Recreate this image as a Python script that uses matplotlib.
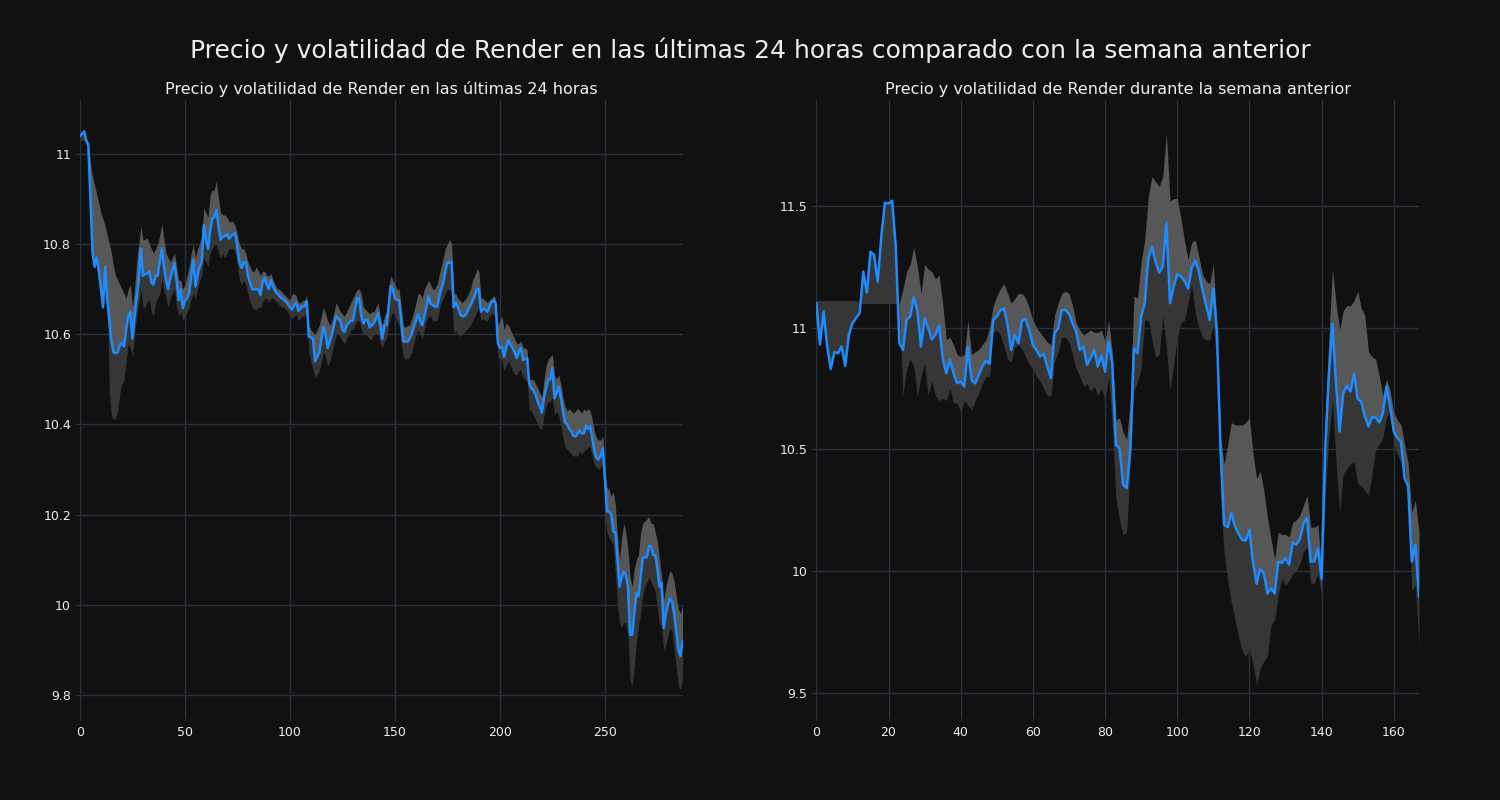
import matplotlib
matplotlib.use("Agg")
import matplotlib.pyplot as plt
from matplotlib.ticker import FuncFormatter

# --- last 24 hours (5 minute steps) ---
day_price = [
    11.04, 11.045, 11.05, 11.03, 11.02, 10.90, 10.78, 10.75, 10.77, 10.74,
    10.70, 10.66, 10.75, 10.68, 10.63, 10.585, 10.56, 10.558, 10.56, 10.576,
    10.58, 10.573, 10.61, 10.64, 10.65, 10.59, 10.64, 10.68, 10.72, 10.79,
    10.73, 10.733, 10.735, 10.74, 10.715, 10.71, 10.73, 10.73, 10.76, 10.79,
    10.75, 10.72, 10.70, 10.725, 10.74, 10.758, 10.72, 10.676, 10.70, 10.658,
    10.675, 10.68, 10.69, 10.73, 10.765, 10.706, 10.73, 10.75, 10.76, 10.842,
    10.81, 10.79, 10.83, 10.857, 10.86, 10.876, 10.84, 10.81, 10.816, 10.818,
    10.822, 10.812, 10.818, 10.822, 10.825, 10.79, 10.76, 10.747, 10.76, 10.76,
    10.73, 10.715, 10.70, 10.70, 10.70, 10.70, 10.687, 10.716, 10.725, 10.71,
    10.70, 10.72, 10.705, 10.696, 10.69, 10.685, 10.68, 10.678, 10.673, 10.667,
    10.66, 10.655, 10.665, 10.67, 10.652, 10.657, 10.662, 10.662, 10.673, 10.595,
    10.593, 10.59, 10.54, 10.55, 10.56, 10.59, 10.617, 10.60, 10.57, 10.584,
    10.60, 10.62, 10.64, 10.635, 10.63, 10.61, 10.605, 10.62, 10.625, 10.63,
    10.63, 10.655, 10.68, 10.68, 10.64, 10.624, 10.632, 10.632, 10.615, 10.62,
    10.625, 10.635, 10.647, 10.62, 10.59, 10.62, 10.62, 10.66, 10.707, 10.70,
    10.68, 10.676, 10.675, 10.63, 10.584, 10.584, 10.584, 10.59, 10.60, 10.617,
    10.63, 10.645, 10.63, 10.62, 10.64, 10.66, 10.685, 10.668, 10.665, 10.662,
    10.66, 10.68, 10.70, 10.713, 10.74, 10.76, 10.758, 10.76, 10.66, 10.67,
    10.66, 10.645, 10.64, 10.64, 10.645, 10.655, 10.664, 10.675, 10.685, 10.70,
    10.70, 10.65, 10.657, 10.655, 10.65, 10.66, 10.672, 10.675, 10.668, 10.58,
    10.57, 10.572, 10.55, 10.57, 10.587, 10.578, 10.57, 10.56, 10.547, 10.56,
    10.57, 10.543, 10.545, 10.547, 10.49, 10.48, 10.475, 10.466, 10.45, 10.44,
    10.426, 10.46, 10.48, 10.50, 10.50, 10.525, 10.458, 10.47, 10.484, 10.46,
    10.43, 10.405, 10.40, 10.39, 10.385, 10.375, 10.373, 10.38, 10.386, 10.38,
    10.38, 10.397, 10.39, 10.396, 10.37, 10.34, 10.325, 10.322, 10.33, 10.347,
    10.28, 10.207, 10.207, 10.20, 10.163, 10.16, 10.10, 10.04, 10.06, 10.073,
    10.065, 10.04, 9.933, 9.933, 9.98, 10.026, 10.018, 10.06, 10.103, 10.105,
    10.105, 10.13, 10.13, 10.11, 10.11, 10.08, 10.04, 10.048, 9.948, 9.98,
    10.00, 10.014, 10.006, 9.98, 9.94, 9.90, 9.886, 9.92,
]
day_upper = [
    11.045, 11.05, 11.055, 11.035, 11.025, 10.98, 10.95, 10.93, 10.91, 10.89,
    10.87, 10.855, 10.84, 10.82, 10.80, 10.78, 10.75, 10.73, 10.72, 10.71,
    10.70, 10.69, 10.68, 10.70, 10.71, 10.66, 10.70, 10.76, 10.80, 10.84,
    10.81, 10.81, 10.815, 10.80, 10.79, 10.78, 10.79, 10.80, 10.82, 10.845,
    10.81, 10.78, 10.77, 10.76, 10.77, 10.78, 10.75, 10.72, 10.72, 10.70,
    10.71, 10.73, 10.75, 10.78, 10.80, 10.77, 10.79, 10.80, 10.82, 10.88,
    10.87, 10.86, 10.91, 10.92, 10.92, 10.94, 10.90, 10.87, 10.865, 10.865,
    10.86, 10.85, 10.85, 10.85, 10.84, 10.82, 10.80, 10.79, 10.79, 10.78,
    10.76, 10.75, 10.74, 10.74, 10.75, 10.74, 10.73, 10.74, 10.74, 10.73,
    10.73, 10.735, 10.72, 10.71, 10.70, 10.70, 10.695, 10.69, 10.685, 10.68,
    10.675, 10.69, 10.69, 10.685, 10.67, 10.67, 10.675, 10.675, 10.685, 10.62,
    10.61, 10.605, 10.60, 10.61, 10.62, 10.64, 10.66, 10.645, 10.63, 10.62,
    10.63, 10.65, 10.67, 10.66, 10.65, 10.645, 10.64, 10.65, 10.66, 10.67,
    10.68, 10.69, 10.70, 10.70, 10.69, 10.66, 10.655, 10.65, 10.645, 10.65,
    10.65, 10.66, 10.67, 10.64, 10.62, 10.64, 10.65, 10.70, 10.73, 10.72,
    10.71, 10.70, 10.70, 10.66, 10.62, 10.615, 10.62, 10.62, 10.635, 10.65,
    10.67, 10.69, 10.69, 10.68, 10.70, 10.71, 10.72, 10.71, 10.70, 10.70,
    10.71, 10.73, 10.75, 10.77, 10.79, 10.80, 10.81, 10.80, 10.69, 10.69,
    10.68, 10.675, 10.67, 10.675, 10.68, 10.69, 10.70, 10.72, 10.73, 10.745,
    10.74, 10.68, 10.68, 10.675, 10.67, 10.675, 10.68, 10.685, 10.68, 10.62,
    10.63, 10.64, 10.61, 10.625, 10.62, 10.61, 10.60, 10.59, 10.58, 10.58,
    10.585, 10.57, 10.57, 10.565, 10.50, 10.50, 10.50, 10.49, 10.48, 10.47,
    10.46, 10.50, 10.53, 10.545, 10.55, 10.555, 10.51, 10.50, 10.51, 10.49,
    10.46, 10.44, 10.43, 10.435, 10.43, 10.425, 10.43, 10.435, 10.43, 10.425,
    10.435, 10.43, 10.435, 10.43, 10.41, 10.385, 10.37, 10.365, 10.365, 10.375,
    10.30, 10.26, 10.255, 10.24, 10.25, 10.22, 10.15, 10.10, 10.15, 10.18,
    10.16, 10.12, 10.06, 10.04, 10.08, 10.10, 10.11, 10.16, 10.18, 10.185,
    10.19, 10.195, 10.18, 10.18, 10.16, 10.14, 10.10, 10.06, 10.01, 10.04,
    10.06, 10.075, 10.07, 10.05, 10.02, 9.99, 9.98, 10.00,
]
day_lower = [
    11.035, 11.03, 11.03, 11.02, 11.00, 10.89, 10.775, 10.745, 10.765, 10.735,
    10.695, 10.655, 10.745, 10.675, 10.47, 10.42, 10.41, 10.415, 10.43, 10.47,
    10.49, 10.50, 10.54, 10.58, 10.57, 10.55, 10.60, 10.64, 10.67, 10.70,
    10.66, 10.66, 10.67, 10.68, 10.65, 10.64, 10.67, 10.68, 10.69, 10.72,
    10.70, 10.68, 10.66, 10.68, 10.69, 10.70, 10.66, 10.64, 10.65, 10.63,
    10.64, 10.65, 10.66, 10.68, 10.69, 10.68, 10.70, 10.72, 10.73, 10.77,
    10.76, 10.75, 10.78, 10.79, 10.80, 10.80, 10.78, 10.77, 10.78, 10.77,
    10.78, 10.79, 10.79, 10.79, 10.78, 10.75, 10.72, 10.71, 10.72, 10.71,
    10.69, 10.67, 10.66, 10.655, 10.655, 10.66, 10.66, 10.67, 10.68, 10.68,
    10.67, 10.68, 10.68, 10.675, 10.67, 10.665, 10.66, 10.66, 10.655, 10.65,
    10.64, 10.635, 10.64, 10.645, 10.63, 10.635, 10.64, 10.64, 10.65, 10.56,
    10.54, 10.52, 10.505, 10.51, 10.52, 10.54, 10.56, 10.55, 10.53, 10.54,
    10.56, 10.58, 10.60, 10.60, 10.595, 10.585, 10.58, 10.59, 10.60, 10.61,
    10.61, 10.62, 10.63, 10.63, 10.61, 10.60, 10.60, 10.595, 10.59, 10.59,
    10.60, 10.60, 10.60, 10.58, 10.57, 10.585, 10.59, 10.62, 10.64, 10.65,
    10.64, 10.63, 10.62, 10.58, 10.55, 10.545, 10.545, 10.55, 10.56, 10.58,
    10.60, 10.61, 10.60, 10.59, 10.61, 10.63, 10.64, 10.64, 10.63, 10.63,
    10.63, 10.65, 10.67, 10.68, 10.69, 10.70, 10.70, 10.69, 10.60, 10.61,
    10.60, 10.595, 10.60, 10.605, 10.61, 10.615, 10.62, 10.63, 10.64, 10.65,
    10.66, 10.63, 10.635, 10.63, 10.63, 10.64, 10.645, 10.645, 10.64, 10.55,
    10.545, 10.54, 10.52, 10.53, 10.54, 10.53, 10.52, 10.51, 10.51, 10.52,
    10.52, 10.505, 10.50, 10.495, 10.43, 10.43, 10.42, 10.41, 10.40, 10.39,
    10.39, 10.42, 10.44, 10.45, 10.45, 10.46, 10.42, 10.43, 10.42, 10.40,
    10.37, 10.35, 10.345, 10.34, 10.335, 10.33, 10.33, 10.33, 10.34, 10.335,
    10.34, 10.345, 10.35, 10.35, 10.33, 10.31, 10.305, 10.30, 10.305, 10.31,
    10.20, 10.16, 10.15, 10.14, 10.13, 10.07, 10.00, 9.96, 9.95, 9.96,
    9.96, 9.93, 9.83, 9.82, 9.86, 9.92, 9.95, 9.98, 10.02, 10.04,
    10.05, 10.06, 10.05, 10.04, 10.03, 9.99, 9.96, 9.95, 9.90, 9.91,
    9.93, 9.95, 9.94, 9.90, 9.86, 9.82, 9.81, 9.84,
]

# --- previous week (hourly) ---
week_price = [
    11.10, 10.93, 11.066, 10.922, 10.83, 10.90, 10.894, 10.922, 10.842, 10.97,
    11.018, 11.04, 11.059, 11.23, 11.144, 11.312, 11.298, 11.189, 11.374, 11.513,
    11.51, 11.521, 11.333, 10.936, 10.908, 11.032, 11.045, 11.125, 11.066, 10.922,
    11.038, 10.997, 10.952, 10.97, 11.01, 10.874, 10.812, 10.867, 10.812, 10.771,
    10.778, 10.758, 10.922, 10.785, 10.771, 10.806, 10.84, 10.864, 10.851, 11.031,
    11.045, 11.072, 11.079, 11.01, 10.908, 10.97, 10.936, 11.031, 11.034, 10.99,
    10.929, 10.908, 10.881, 10.892, 10.84, 10.792, 10.977, 10.997, 11.072, 11.072,
    11.056, 11.018, 10.983, 10.908, 10.922, 10.847, 10.874, 10.908, 10.84, 10.884,
    10.819, 10.943, 10.853, 10.518, 10.505, 10.354, 10.34, 10.498, 10.915, 10.894,
    11.045, 11.10, 11.285, 11.333, 11.271, 11.226, 11.25, 11.431, 11.10, 11.168,
    11.22, 11.21, 11.193, 11.16, 11.244, 11.275, 11.23, 11.155, 11.093, 11.031,
    11.161, 10.98, 10.50, 10.19, 10.18, 10.238, 10.183, 10.153, 10.128, 10.125,
    10.169, 10.035, 9.948, 10.008, 9.991, 9.907, 9.93, 9.907, 10.039, 10.033,
    10.053, 10.026, 10.117, 10.108, 10.131, 10.197, 10.217, 10.039, 10.039, 10.094,
    9.967, 10.498, 10.80, 11.015, 10.771, 10.573, 10.73, 10.761, 10.737, 10.81,
    10.706, 10.696, 10.635, 10.594, 10.632, 10.631, 10.61, 10.648, 10.758, 10.676,
    10.573, 10.546, 10.532, 10.382, 10.347, 10.039, 10.108, 9.896,
]
week_upper = [
    11.11, 11.11, 11.11, 11.11, 11.11, 11.11, 11.11, 11.11, 11.11, 11.11,
    11.11, 11.11, 11.10, 11.10, 11.10, 11.10, 11.10, 11.10, 11.10, 11.10,
    11.10, 11.10, 11.10, 11.10, 11.16, 11.23, 11.26, 11.33, 11.25, 11.14,
    11.26, 11.24, 11.23, 11.20, 11.215, 11.10, 10.95, 10.96, 10.93, 10.89,
    10.88, 10.89, 11.03, 10.89, 10.90, 10.91, 10.93, 10.95, 11.00, 11.09,
    11.13, 11.16, 11.18, 11.14, 11.10, 11.12, 11.14, 11.14, 11.12, 11.08,
    11.03, 11.00, 10.98, 10.96, 10.94, 10.93, 11.05, 11.10, 11.14, 11.15,
    11.14, 11.09, 11.02, 10.99, 10.97, 10.98, 10.99, 10.98, 10.98, 10.99,
    10.94, 11.03, 10.90, 10.62, 10.63, 10.57, 10.54, 10.70, 11.13, 11.12,
    11.27, 11.36, 11.54, 11.62, 11.60, 11.58, 11.62, 11.80, 11.52, 11.53,
    11.53, 11.45, 11.36, 11.28, 11.35, 11.36, 11.29, 11.22, 11.19, 11.18,
    11.26, 11.02, 10.55, 10.44, 10.52, 10.61, 10.60, 10.60, 10.60, 10.61,
    10.63, 10.48, 10.38, 10.41, 10.33, 10.22, 10.13, 10.05, 10.16, 10.15,
    10.15, 10.14, 10.20, 10.21, 10.23, 10.27, 10.31, 10.18, 10.18, 10.19,
    10.00, 10.60, 10.95, 11.24, 11.10, 10.99, 11.07, 11.09, 11.09, 11.11,
    11.15, 11.08, 11.05, 10.90, 10.88, 10.87, 10.80, 10.72, 10.79, 10.74,
    10.65, 10.62, 10.60, 10.52, 10.44, 10.24, 10.29, 10.16,
]
week_lower = [
    11.11, 11.11, 11.11, 11.11, 11.11, 11.11, 11.11, 11.11, 11.11, 11.11,
    11.11, 11.11, 11.10, 11.10, 11.10, 11.10, 11.10, 11.10, 11.10, 11.10,
    11.10, 11.10, 11.10, 11.10, 10.72, 10.83, 10.87, 10.84, 10.72, 10.80,
    10.85, 10.72, 10.78, 10.72, 10.70, 10.71, 10.70, 10.75, 10.69, 10.69,
    10.65, 10.70, 10.68, 10.66, 10.70, 10.73, 10.77, 10.80, 10.80, 10.98,
    10.99, 10.97, 10.92, 10.87, 10.86, 10.92, 10.93, 10.91, 10.88, 10.85,
    10.83, 10.80, 10.78, 10.75, 10.72, 10.72, 10.86, 10.90, 10.96, 10.96,
    10.94, 10.89, 10.83, 10.80, 10.76, 10.77, 10.74, 10.76, 10.72, 10.75,
    10.70, 10.80, 10.60, 10.30, 10.21, 10.15, 10.16, 10.45, 10.74, 10.78,
    10.83, 11.03, 11.03, 10.95, 10.88, 10.89, 11.05, 10.92, 10.74, 10.85,
    10.96, 11.02, 11.03, 11.10, 11.18, 11.06, 11.00, 10.96, 10.95, 10.95,
    11.01, 10.85, 10.30, 10.07, 9.96, 9.87, 9.80, 9.73, 9.67, 9.65,
    9.68, 9.62, 9.53, 9.60, 9.63, 9.65, 9.78, 9.80, 9.90, 9.97,
    9.94, 9.96, 9.99, 10.00, 10.03, 10.08, 10.10, 9.95, 9.95, 9.99,
    9.90, 10.30, 10.55, 10.70, 10.45, 10.24, 10.40, 10.42, 10.44, 10.45,
    10.36, 10.35, 10.33, 10.31, 10.40, 10.50, 10.52, 10.55, 10.63, 10.66,
    10.52, 10.48, 10.45, 10.44, 10.32, 9.92, 9.94, 9.69,
]

bg = '#111111'
grid_c = '#283140'
line_c = '#1e8cff'
band_hi = '#575757'
band_lo = '#363636'
text_c = '#eeeeee'

fig, (ax1, ax2) = plt.subplots(1, 2, figsize=(15, 8), dpi=100)
fig.patch.set_facecolor(bg)
fig.subplots_adjust(left=0.0533, right=0.946, bottom=0.104, top=0.875, wspace=0.222)


def draw(ax, price, upper, lower, title):
    x = list(range(len(price)))
    ax.set_facecolor(bg)
    # light band above the price, dark band below it (dark drawn last)
    ax.fill_between(x, price, upper, color=band_hi, lw=0, zorder=2)
    ax.fill_between(x, lower, price, color=band_lo, lw=0, zorder=3)
    ax.plot(x, price, color=line_c, lw=1.8, zorder=4)
    ax.set_xlim(0, len(price) - 1)
    ax.grid(True, color=grid_c, lw=1)
    ax.set_axisbelow(True)
    for s in ax.spines.values():
        s.set_visible(False)
    ax.tick_params(colors=text_c, labelsize=9, length=3, color=grid_c)
    ax.yaxis.set_major_formatter(FuncFormatter(lambda v, p: f'{v:g}'))
    ax.set_title(title, color=text_c, fontsize=11.5, pad=4)


draw(ax1, day_price, day_upper, day_lower,
     'Precio y volatilidad de Render en las últimas 24 horas')
ax1.set_ylim(9.751, 11.12)
ax1.set_xticks([0, 50, 100, 150, 200, 250])
ax1.set_yticks([9.8, 10.0, 10.2, 10.4, 10.6, 10.8, 11.0])

draw(ax2, week_price, week_upper, week_lower,
     'Precio y volatilidad de Render durante la semana anterior')
ax2.set_ylim(9.401, 11.935)
ax2.set_xticks([0, 20, 40, 60, 80, 100, 120, 140, 160])
ax2.set_yticks([9.5, 10.0, 10.5, 11.0, 11.5])

fig.suptitle('Precio y volatilidad de Render en las últimas 24 horas comparado con la semana anterior',
             color=text_c, fontsize=18, y=0.9375, va='center')

fig.savefig('out.png', facecolor=bg)
